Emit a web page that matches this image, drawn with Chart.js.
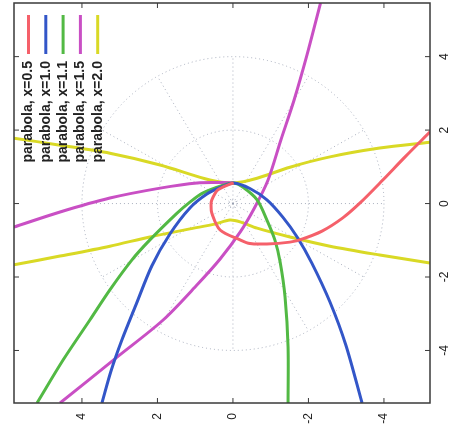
<!DOCTYPE html>
<html>
<head>
<meta charset="utf-8">
<script src="https://cdn.jsdelivr.net/npm/chart.js"></script>
<style>
  html, body { margin: 0; padding: 0; background: #fff; }
  #wrap { width: 451px; height: 437px; }
</style>
</head>
<body>
<div id="wrap"><canvas id="c"></canvas></div>
<script>
// picture is a gnuplot polar plot turned a quarter turn, so h runs 4..-4 left to right
const xTicks = [4, 2, 0, -2, -4]
const yTicks = [4, 2, 0, -2, -4]
const gridRadii = [0.1, 2, 4]
const gridAngles = [0, 30, 60, 90, 120, 150, 180, 210, 240, 270, 300, 330]

const labels = ['parabola, x=0.5', 'parabola, x=1.0', 'parabola, x=1.1', 'parabola, x=1.5', 'parabola, x=2.0']

const parabola05 = [[-5.22, 1.95], [-4.56, 1.27], [-3.97, 0.64], [-3.36, 0.01], [-2.91, -0.39], [-2.36, -0.75],
  [-1.77, -0.99], [-1.51, -1.05], [-0.90, -1.10], [-0.45, -1.09], [-0.19, -0.99], [0.34, -0.72], [0.56, -0.26],
  [0.58, -0.04], [0.56, 0.10], [0.40, 0.37], [0.08, 0.53], [-0.02, 0.56]]

const parabola10 = [[3.47, -5.43], [3.23, -4.56], [2.94, -3.71], [2.57, -2.76], [2.15, -1.70], [1.67, -0.83],
  [1.14, -0.12], [0.69, 0.26], [0.29, 0.46], [-0.02, 0.56], [-0.45, 0.41], [-0.90, 0.10], [-1.32, -0.37],
  [-1.70, -0.91], [-2.09, -1.62], [-2.57, -2.68], [-2.99, -3.85], [-3.42, -5.43]]

const parabola11 = [[5.19, -5.43], [4.50, -4.26], [3.79, -3.17], [3.26, -2.35], [2.68, -1.54], [2.20, -0.99],
  [1.48, -0.26], [1.14, 0.04], [0.79, 0.29], [0.26, 0.50], [-0.02, 0.56], [-0.26, 0.45], [-0.64, 0.10],
  [-0.90, -0.45], [-1.11, -0.99], [-1.25, -1.59], [-1.38, -2.54], [-1.46, -3.90], [-1.46, -5.43]]

const parabola15Left = [[5.80, -0.64], [4.58, -0.23], [3.26, 0.15], [1.93, 0.42], [0.95, 0.56], [0.26, 0.57], [-0.02, 0.56]]
const parabola15Right = [[4.58, -5.43], [3.07, -4.18], [1.85, -3.17], [0.93, -2.19], [0.34, -1.51], [-0.19, -0.78],
  [-0.58, -0.10], [-0.93, 0.64], [-1.27, 1.73], [-1.62, 2.82], [-1.96, 4.04], [-2.32, 5.46]]

const parabola20Upper = [[5.80, 1.78], [4.58, 1.59], [3.26, 1.37], [1.93, 1.05], [0.61, 0.64], [-0.02, 0.56],
  [-0.64, 0.69], [-1.51, 0.99], [-2.57, 1.27], [-3.89, 1.51], [-5.22, 1.67]]
const parabola20Lower = [[5.80, -1.67], [4.58, -1.43], [3.26, -1.16], [2.20, -0.91], [1.14, -0.69], [0.48, -0.56],
  [0.08, -0.45], [-0.19, -0.50], [-0.64, -0.67], [-1.51, -0.91], [-2.57, -1.16], [-3.89, -1.40], [-5.22, -1.62]]

const colors = ['#f5606a', '#3356c8', '#52b944', '#c94fc4', '#d9d925']

function pts(list) {
  return list.map(p => ({ x: p[0], y: p[1] }))
}
function joined(a, b) {
  return pts(a).concat([{ x: null, y: null }], pts(b))
}

const series = [pts(parabola05), pts(parabola10), pts(parabola11),
  joined(parabola15Left, parabola15Right), joined(parabola20Upper, parabola20Lower)]

const polarGrid = {
  id: 'polarGrid',
  beforeDatasetsDraw(chart) {
    const { ctx, chartArea: a, scales: { x, y } } = chart
    const cx = x.getPixelForValue(0), cy = y.getPixelForValue(0)
    const kx = Math.abs(x.getPixelForValue(1) - cx), ky = Math.abs(y.getPixelForValue(1) - cy)
    ctx.save()
    ctx.beginPath()
    ctx.rect(a.left, a.top, a.width, a.height)
    ctx.clip()
    ctx.strokeStyle = 'rgba(150,158,175,0.8)'
    ctx.lineWidth = 1
    ctx.setLineDash([1, 3])
    gridRadii.forEach(r => {
      ctx.beginPath()
      ctx.ellipse(cx, cy, r * kx, r * ky, 0, 0, Math.PI * 2)
      ctx.stroke()
    })
    const rMax = gridRadii[gridRadii.length - 1]
    gridAngles.forEach(deg => {
      const t = deg * Math.PI / 180
      ctx.beginPath()
      ctx.moveTo(cx, cy)
      ctx.lineTo(cx + Math.cos(t) * rMax * kx, cy - Math.sin(t) * rMax * ky)
      ctx.stroke()
    })
    ctx.restore()
  }
}

const frame = {
  id: 'frame',
  afterDatasetsDraw(chart) {
    const { ctx, chartArea: a, scales: { x, y } } = chart
    ctx.save()
    ctx.strokeStyle = '#3a3a3a'
    ctx.lineWidth = 1.5
    ctx.strokeRect(a.left, a.top, a.width, a.height)
    ctx.lineWidth = 1
    xTicks.forEach(v => {
      const px = x.getPixelForValue(v)
      ctx.beginPath()
      ctx.moveTo(px, a.bottom); ctx.lineTo(px, a.bottom - 5)
      ctx.moveTo(px, a.top); ctx.lineTo(px, a.top + 5)
      ctx.stroke()
    })
    yTicks.forEach(v => {
      const py = y.getPixelForValue(v)
      ctx.beginPath()
      ctx.moveTo(a.left, py); ctx.lineTo(a.left + 5, py)
      ctx.moveTo(a.right, py); ctx.lineTo(a.right - 5, py)
      ctx.stroke()
    })
    ctx.restore()
  }
}

const rotatedLegend = {
  id: 'rotatedLegend',
  afterDatasetsDraw(chart) {
    const ctx = chart.ctx
    ctx.save()
    ctx.font = 'bold 14px "Liberation Sans", Arial, sans-serif'
    ctx.fillStyle = '#222'
    chart.data.datasets.forEach((ds, i) => {
      const lx = 28.5 + i * 17.3
      ctx.strokeStyle = ds.borderColor
      ctx.lineWidth = 3
      ctx.beginPath()
      ctx.moveTo(lx, 15)
      ctx.lineTo(lx, 54)
      ctx.stroke()
      ctx.save()
      ctx.translate(lx, 61)
      ctx.rotate(-Math.PI / 2)
      ctx.textAlign = 'right'
      ctx.textBaseline = 'middle'
      ctx.fillText(ds.label, 0, 0)
      ctx.restore()
    })
    ctx.restore()
  }
}

const tickFont = { family: '"Liberation Sans", Arial, sans-serif', size: 12 }

new Chart(document.getElementById('c').getContext('2d'), {
  type: 'scatter',
  data: {
    datasets: series.map((d, i) => ({
      label: labels[i],
      data: d,
      showLine: true,
      borderColor: colors[i],
      backgroundColor: colors[i],
      borderWidth: 3,
      pointRadius: 0,
      tension: 0.3,
      spanGaps: false
    }))
  },
  options: {
    responsive: true,
    maintainAspectRatio: false,
    animation: false,
    layout: { padding: { left: 14, top: 3, right: 0, bottom: 0 } },
    plugins: { legend: { display: false }, tooltip: { enabled: false } },
    scales: {
      x: {
        type: 'linear',
        reverse: true,
        min: -5.22,
        max: 5.8,
        grid: { display: false, drawTicks: false },
        border: { display: false },
        afterBuildTicks: s => { s.ticks = xTicks.map(v => ({ value: v })) },
        afterFit: s => { s.height = 34; s.paddingLeft = 0; s.paddingRight = 0 },
        ticks: { color: '#222', font: tickFont, minRotation: 90, maxRotation: 90, padding: 10 }
      },
      y: {
        type: 'linear',
        position: 'right',
        min: -5.43,
        max: 5.46,
        grid: { display: false, drawTicks: false },
        border: { display: false },
        afterBuildTicks: s => { s.ticks = yTicks.map(v => ({ value: v })) },
        afterFit: s => { s.width = 21; s.paddingTop = 0; s.paddingBottom = 0 },
        ticks: { color: '#222', font: tickFont, minRotation: 90, maxRotation: 90, crossAlign: 'center', padding: 9 }
      }
    }
  },
  plugins: [polarGrid, frame, rotatedLegend]
})
</script>
</body>
</html>
